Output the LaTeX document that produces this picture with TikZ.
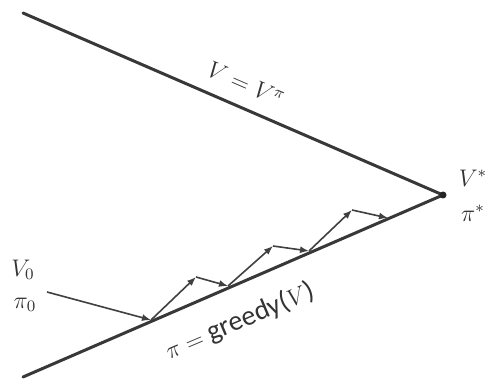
\documentclass[tikz,border=0pt]{standalone}
\usepackage{fontspec}
\newfontfamily\carlfont{Carlito}
\usetikzlibrary{calc,arrows.meta}
\begin{document}
\begin{tikzpicture}[x=0.5pt,y=0.5pt,
  mainline/.style={draw=black!78,line width=1.5pt,line cap=round},
  stepline/.style={draw=black!75,line width=0.8pt,-{Latex[length=4.5pt,width=3.5pt]}},
  lbl/.style={text=black!80,inner sep=0pt,font=\fontsize{11.5}{14}\selectfont}]
\useasboundingbox (0,0) rectangle (503,-379);
% main lines
\coordinate (tl) at (23,-13);
\coordinate (bl) at (23,-377);
\coordinate (opt) at (443,-195);
\draw[mainline] (tl) -- (opt);
\draw[mainline] (bl) -- (opt);
\fill[black!85] (opt) circle (3.5);
% zigzag points
\coordinate (p0) at (151,-320);
\coordinate (a1) at (196,-277);
\coordinate (p1) at (228,-286);
\coordinate (a2) at (273,-246);
\coordinate (p2) at (309,-251);
\coordinate (a3) at (352,-210);
\coordinate (p3) at (388,-218);
\coordinate (v0s) at (47,-292);
\draw[stepline] (v0s) -- (p0);
\draw[stepline] (p0) -- (a1);
\draw[stepline] (a1) -- (p1);
\draw[stepline] (p1) -- (a2);
\draw[stepline] (a2) -- (p2);
\draw[stepline] (p2) -- (a3);
\draw[stepline] (a3) -- (p3);
% labels
\node[lbl] (v0) at (23,-270) {$V_0$};
\node[lbl] (pi0) at (25,-305) {$\pi_0$};
\node[lbl] (vs) at (473,-178) {$V^*$};
\node[lbl] (pis) at (473,-213) {$\pi^*$};
\node[lbl,rotate=-23.4] (vlab) at (246,-84) {$V = V^{\pi}$};
\node[lbl,rotate=23] (plab) at (240,-321) {$\pi = \hbox{\carlfont\fontsize{14}{16}\selectfont greedy(}V\hbox{\carlfont\fontsize{14}{16}\selectfont )}$};
\end{tikzpicture}
\end{document}
